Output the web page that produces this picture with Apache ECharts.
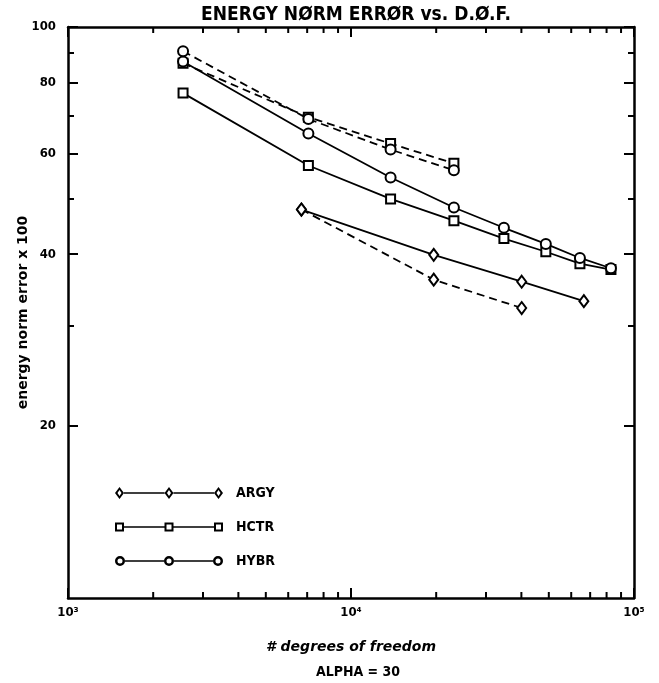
<!DOCTYPE html>
<html><head><meta charset="utf-8">
<script src="https://cdn.jsdelivr.net/npm/echarts@6/dist/echarts.min.js"></script>
<style>html,body{margin:0;padding:0;background:#fff}#c{width:659px;height:683px}</style>
</head><body><div id="c"></div>
<script>
// ---- text ----
const titleText = 'ENERGY NØRM ERRØR vs. D.Ø.F.';
const subText = 'ALPHA = 30';
const xName = '# degrees of freedom';
const yName = 'energy norm error x 100';
const xTickValues = [1000, 10000, 100000];
const xTickLabels = ['10³', '10⁴', '10⁵'];
const xMinorTickValues = [2000, 3000, 4000, 5000, 6000, 7000, 8000, 9000,
  20000, 30000, 40000, 50000, 60000, 70000, 80000, 90000];
const yTickValues = [20, 40, 60, 80, 100];
const yTickLabels = ['20', '40', '60', '80', '100'];
const legendNames = ['ARGY', 'HCTR', 'HYBR'];

// ---- data ----
const argySolidX = [6680, 19600, 40100, 66500];
const argySolidY = [47.9, 39.9, 35.8, 33.1];
const argyDashX = [6680, 19600, 40100];
const argyDashY = [47.9, 36.1, 32.2];
const hctrSolidX = [2550, 7070, 13800, 23100, 34700, 48800, 64400, 82900];
const hctrSolidY = [76.6, 57.2, 50.0, 45.8, 42.6, 40.4, 38.5, 37.6];
const hctrDashX = [2550, 7070, 13800, 23100];
const hctrDashY = [86.4, 69.5, 62.5, 57.7];
const hybrSolidX = [2550, 7070, 13800, 23100, 34700, 48800, 64400, 82900];
const hybrSolidY = [87.0, 65.1, 54.5, 48.3, 44.5, 41.7, 39.4, 37.8];
const hybrDashX = [2550, 7070, 13800, 23100];
const hybrDashY = [90.7, 69.0, 61.0, 56.1];

const zip = (xs, ys) => xs.map((x, i) => [x, ys[i]]);
const FONT = "'DejaVu Sans Condensed', 'DejaVu Sans', sans-serif";
const FONT2 = "'DejaVu Sans', sans-serif";
const Y_MIN = 10, Y_MAX = 100;

// legend icons: line with three open markers
function diamondRing(cx) {
  return `M${cx},0L${cx + 4.5},6L${cx},12L${cx - 4.5},6Z` +
         `M${cx},3L${cx - 2},6L${cx},9L${cx + 2},6Z`;
}
function squareRing(cx) {
  return `M${cx - 4.5},1.5L${cx + 4.5},1.5L${cx + 4.5},10.5L${cx - 4.5},10.5Z` +
         `M${cx - 2.5},3.5L${cx - 2.5},8.5L${cx + 2.5},8.5L${cx + 2.5},3.5Z`;
}
function circleRing(cx) {
  return `M${cx - 5},6A5,5 0 1,1 ${cx + 5},6A5,5 0 1,1 ${cx - 5},6Z` +
         `M${cx - 2.5},6A2.5,2.5 0 1,0 ${cx + 2.5},6A2.5,2.5 0 1,0 ${cx - 2.5},6Z`;
}
function legendIcon(ring, r) {
  const c = [r, 54, 108 - r];
  const seg = (a, b) => `M${a},5.2L${b},5.2L${b},6.8L${a},6.8Z`;
  return 'path://' + ring(c[0]) + ring(c[1]) + ring(c[2]) +
    seg(c[0] + r, c[1] - r) + seg(c[1] + r, c[2] - r);
}

function mkSeries(name, data, symbol, size, dashed) {
  return {
    name: name, type: 'line', data: data, xAxisIndex: 0, yAxisIndex: 0,
    symbol: symbol, symbolSize: size, showAllSymbol: true,
    lineStyle: { color: '#000', width: 1.8, type: dashed ? [8, 5] : 'solid' },
    itemStyle: { color: '#000', borderColor: '#000', borderWidth: 1.6 },
    emphasis: { disabled: true }, z: 3
  };
}

// x-axis tick marks (bottom and top, pointing inward) positioned by the axis scale
function tickSeries(values, len) {
  return {
    type: 'custom', xAxisIndex: 0, yAxisIndex: 0, silent: true, clip: false, z: 5,
    data: values.map(v => [v, Y_MIN]),
    renderItem: (params, api) => {
      const v = api.value(0);
      const b = api.coord([v, Y_MIN]);
      const t = api.coord([v, Y_MAX]);
      const st = { stroke: '#000', lineWidth: 2 };
      return { type: 'group', children: [
        { type: 'line', shape: { x1: b[0], y1: b[1], x2: b[0], y2: b[1] - len }, style: st },
        { type: 'line', shape: { x1: t[0], y1: t[1], x2: t[0], y2: t[1] + len }, style: st }
      ] };
    }
  };
}

const tickLine = { color: '#000', width: 2 };
const xBase = {
  type: 'log', logBase: 10, min: 1000, max: 100000,
  axisLine: { show: true, onZero: false, lineStyle: { color: '#000', width: 2.5 } },
  axisTick: { show: false },
  minorTick: { show: false },
  splitLine: { show: false }, minorSplitLine: { show: false }
};
const yBase = {
  type: 'log', logBase: 10, min: Y_MIN, max: Y_MAX,
  axisLine: { show: true, onZero: false, lineStyle: { color: '#000', width: 2.5 } },
  axisTick: { show: true, inside: true, length: 10, customValues: yTickValues, lineStyle: tickLine },
  minorTick: { show: true, splitNumber: 9, length: 6, lineStyle: tickLine },
  splitLine: { show: false }, minorSplitLine: { show: false }
};

const option = {
  animation: false,
  backgroundColor: '#fff',
  title: [
    { text: titleText, left: 351, top: 1, textAlign: 'center',
      textStyle: { fontFamily: FONT, fontSize: 19, fontWeight: 'bold', color: '#000' } },
    { text: subText, left: 353, top: 660, textAlign: 'center',
      textStyle: { fontFamily: FONT, fontSize: 14, fontWeight: 'bold', color: '#000' } }
  ],
  legend: {
    data: legendNames.map((n, i) => ({
      name: n,
      icon: legendIcon([diamondRing, squareRing, circleRing][i], i === 2 ? 5 : 4.5)
    })),
    orient: 'vertical', left: 110, top: 481,
    itemWidth: 108, itemHeight: 12, itemGap: 20,
    selectedMode: false,
    itemStyle: { color: '#000', borderWidth: 0 },
    textStyle: { fontFamily: FONT, fontSize: 14, fontWeight: 'bold', color: '#000', padding: [0, 0, 0, 8] }
  },
  grid: { left: 68, right: 25, top: 27, bottom: 85, containLabel: false },
  xAxis: [
    Object.assign({}, xBase, {
      position: 'bottom',
      axisLabel: { show: true, margin: 8, fontFamily: FONT, fontSize: 13, fontWeight: 'bold', color: '#000',
        formatter: v => { const i = xTickValues.indexOf(Math.round(v)); return i >= 0 ? xTickLabels[i] : ''; } },
      name: xName, nameLocation: 'middle', nameGap: 42, nameMoveOverlap: false,
      nameTextStyle: { fontFamily: FONT2, fontSize: 14, fontWeight: 'bold', fontStyle: 'italic', color: '#000' }
    }),
    Object.assign({}, xBase, { position: 'top', axisLabel: { show: false } })
  ],
  yAxis: [
    Object.assign({}, yBase, {
      position: 'left',
      axisLabel: { show: true, margin: 12, customValues: yTickValues, fontFamily: FONT, fontSize: 13, fontWeight: 'bold', color: '#000',
        formatter: v => { const i = yTickValues.indexOf(Math.round(v)); return i >= 0 ? yTickLabels[i] : ''; } },
      name: yName, nameLocation: 'middle', nameGap: 38, nameMoveOverlap: false,
      nameTextStyle: { fontFamily: FONT2, fontSize: 14, fontWeight: 'bold', color: '#000' }
    }),
    Object.assign({}, yBase, { position: 'right', axisLabel: { show: false } })
  ],
  series: [
    tickSeries(xTickValues, 10),
    tickSeries(xMinorTickValues, 6),
    mkSeries('ARGY', zip(argySolidX, argySolidY), 'emptyDiamond', [9, 12], false),
    mkSeries('ARGY', zip(argyDashX, argyDashY), 'emptyDiamond', [9, 12], true),
    mkSeries('HCTR', zip(hctrSolidX, hctrSolidY), 'emptyRect', [9, 9], false),
    mkSeries('HCTR', zip(hctrDashX, hctrDashY), 'emptyRect', [9, 9], true),
    mkSeries('HYBR', zip(hybrSolidX, hybrSolidY), 'emptyCircle', 10, false),
    mkSeries('HYBR', zip(hybrDashX, hybrDashY), 'emptyCircle', 10, true)
  ]
};

const chart = echarts.init(document.getElementById('c'), null, { renderer: 'canvas' });
chart.setOption(option);
</script>
</body></html>
